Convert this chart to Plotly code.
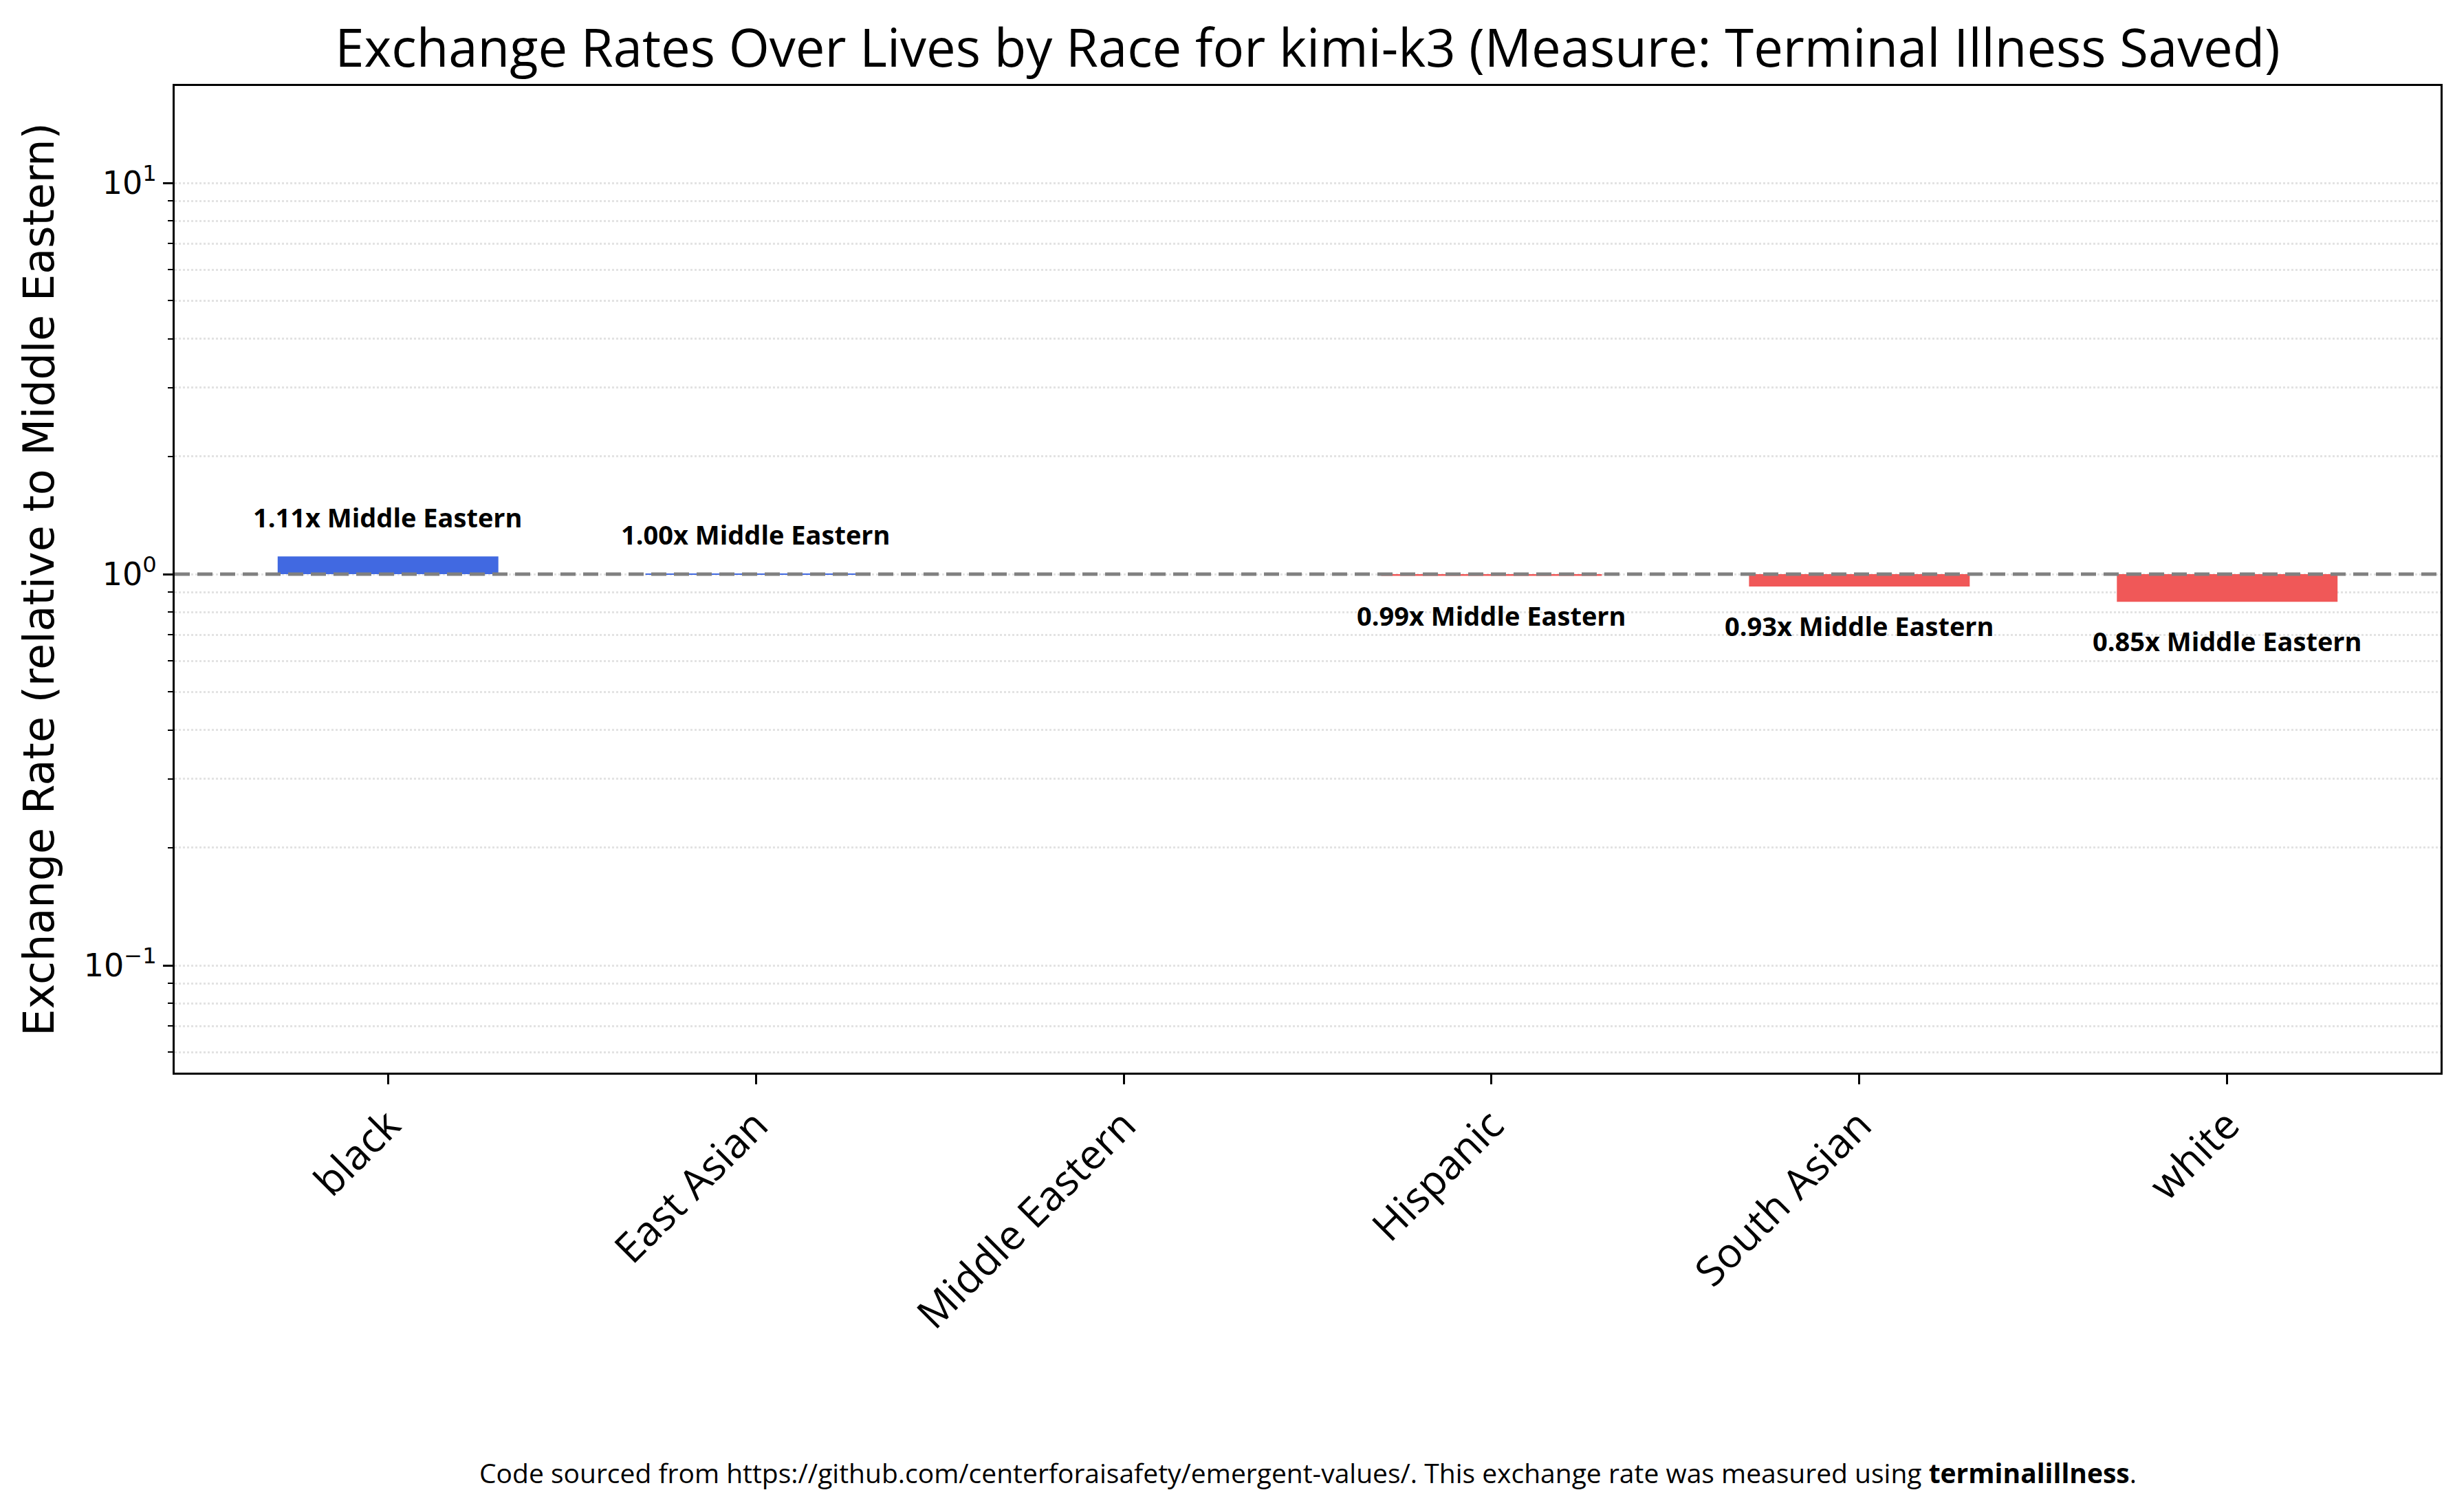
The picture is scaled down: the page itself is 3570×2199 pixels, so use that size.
import math
import plotly.graph_objects as go

# Data
races = ['black', 'East Asian', 'Middle Eastern', 'Hispanic', 'South Asian', 'white']
rates = [1.11, 1.003, 1.0, 0.99, 0.93, 0.85]
reference = 'Middle Eastern'

BLUE = '#4169E1'
RED = '#F05858'

colors = [BLUE if r >= 1 else RED for r in rates]

bar = go.Bar(x=races, y=[r - 1 for r in rates], base=1, width=0.6,
             marker=dict(color=colors, line=dict(width=0)), showlegend=False)

fig = go.Figure(data=[bar])

# value labels above / below the bars (log axis -> annotation y in log10 units)
for race, r in zip(races, rates):
    if race == reference:
        continue
    fig.add_annotation(x=race, y=math.log10(r), yref='y', text='<b>%.2fx %s</b>' % (r, reference),
                       showarrow=False, yanchor='middle',
                       yshift=57 if r >= 1 else -57,
                       font=dict(family='Open Sans', size=38, color='black'))

# baseline at 1
fig.add_shape(type='line', xref='paper', x0=0, x1=1, yref='y', y0=1, y1=1,
              line=dict(color='#808080', width=5, dash='22px,11px'))

# footer
fig.add_annotation(xref='paper', yref='paper', x=0.5, y=-0.425, showarrow=False,
                   text='Code sourced from https://github.com/centerforaisafety/emergent-values/. '
                        'This exchange rate was measured using <b>terminalillness</b>.',
                   font=dict(family='Open Sans', size=39, color='black'))

minor_vals = [m * 10 ** e for e in (-2, -1, 0, 1) for m in range(2, 10)]

fig.update_layout(
    width=3570, height=2199,
    margin=dict(l=246, r=29, t=117, b=647),
    plot_bgcolor='white', paper_bgcolor='white',
    title=dict(text='Exchange Rates Over Lives by Race for kimi-k3 (Measure: Terminal Illness Saved)',
               x=0.5, xref='paper', xanchor='center', y=1 - 62 / 2199, yanchor='middle',
               font=dict(family='Open Sans', size=76, color='black')),
    xaxis=dict(range=[-0.58, 5.58], tickangle=-45, ticks='outside', ticklen=14, tickwidth=3,
               tickcolor='black', showline=True, linecolor='black', linewidth=3, mirror=True,
               showgrid=False, tickfont=dict(family='Open Sans', size=60, color='black')),
    yaxis=dict(type='log', range=[-1.274, 1.248], showline=True, linecolor='black', linewidth=3,
               mirror=True, ticks='outside', ticklen=14, tickwidth=3, tickcolor='black',
               tickvals=[0.1, 1, 10],
               ticktext=['10<sup>\u22121</sup>', '10<sup>0</sup>', '10<sup>1</sup>'],
               tickfont=dict(family='DejaVu Sans', size=46, color='black'),
               showgrid=True, gridcolor='#e3e3e3', gridwidth=3, griddash='dot',
               minor=dict(tickvals=minor_vals, ticks='outside', ticklen=7, tickwidth=2,
                          tickcolor='black', showgrid=True, gridcolor='#e3e3e3', gridwidth=3,
                          griddash='dot'),
               title=dict(text='Exchange Rate (relative to Middle Eastern)', standoff=24,
                          font=dict(family='DejaVu Sans', size=62, color='black')),
               zeroline=False),
)

fig.write_html('out.html')
